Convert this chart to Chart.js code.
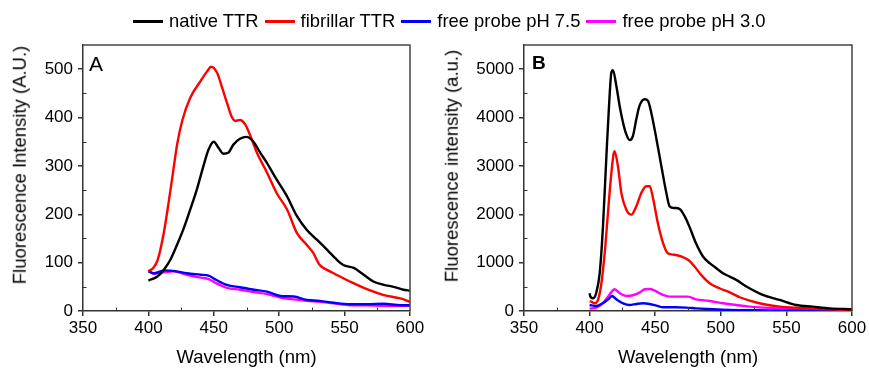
<!DOCTYPE html>
<html>
<head>
<meta charset="utf-8">
<script src="https://cdn.jsdelivr.net/npm/chart.js@4.4.1/dist/chart.umd.min.js"></script>
<style>
  html, body { margin:0; padding:0; background:#fff; }
  #wrap { position:relative; width:869px; height:368px; overflow:hidden; font-family:"Liberation Sans", Arial, sans-serif; }
  canvas { position:absolute; top:0; }
  #cA { left:0; }
  #cB { left:430px; }
  #legend { position:absolute; left:133px; top:9px; height:24px; display:flex; align-items:center; font-size:18.4px; color:#000; white-space:nowrap; }
  #legend .ln { display:inline-block; width:30px; height:3px; margin-right:6px; }
  #legend .tx { margin-right:6px; }
  .panel { position:absolute; color:#000; }
  .ytitle { position:absolute; font-size:18.5px; line-height:1; color:#000; white-space:nowrap; transform: translate(-50%,-50%) rotate(-90deg); }
</style>
</head>
<body>
<div id="wrap">
  <canvas id="cA" width="430" height="368"></canvas>
  <canvas id="cB" width="439" height="368"></canvas>
  <div id="legend"></div>
  <div class="panel" style="left:89px; top:52px; font-size:21px;">A</div>
  <div class="panel" style="left:532px; top:52px; font-size:19px; font-weight:bold;">B</div>
  <div class="ytitle" id="ytA" style="left:20px; top:165px;"></div>
  <div class="ytitle" id="ytB" style="left:452px; top:166px;"></div>
</div>
<script>
// ---------- Data ----------
const seriesNames = ["native TTR", "fibrillar TTR", "free probe pH 7.5", "free probe pH 3.0"];
const seriesColors = ["#000000", "#ff0000", "#0000ff", "#ff00ff"];
const xTitle = "Wavelength (nm)";
const yTitleA = "Fluorescence Intensity (A.U.)";
const yTitleB = "Fluorescence intensity (a.u.)";

// Panel A
const aNativeWl = [400,406.6,411.7,416.8,421.9,427,432,437,442,446,450,453.7,457.5,461,465,470,475,480,485.6,490.7,498,506,513.6,521,529,536.5,544,549,557,564.6,572,580,587.5,595,600];
const aNativeVal = [63,71,85,106,137,171,210,251,299,334,350,337,325,327,344,356,360,351,327,306,272,237,196,168,147,127,106,95,89,75,61,54,50,44,42];
const aFibWl = [400,404,407,409,412,415.5,419,422,426,432,440,445,448,452.4,456,460,464,466.5,470,474,478,483,490.7,498,506,513.6,521,526,531,536.5,541.6,554,567,580,592.6,600];
const aFibVal = [82,90,105,125,165,225,290,345,395,441,476,496,505,493,465,431,400,393,395,386,362,327,286,244,210,161,137,120,95,85,78,61,45,33,26,19];
const aProbeWl = [400,404,412,419,429.5,440,446,452,460,470,480.5,490.7,501,511,521,531,541.6,554,567,580,592.6,600];
const aPh75Val = [82,78,84,83,78,75,73,64,54,49,44,40,31,30,23,21,17,14,14,15,12,12];
const aPh30Val = [85,77,80,82,75,69,66,57,48,44,39,35,28,24,21,19,16,12,12,11,11,11];

// Panel B
const bNativeWl = [400,400.6,402.6,405,407.7,410.2,412.8,414.8,416.6,417.8,420.4,422.9,425.5,428,430.5,433,435.6,438,442,444.5,447,451,454.7,458.5,461,464.8,468.6,472.5,476,481,486.4,491.5,496.6,501.7,506.8,511.8,519.5,532,544.9,557.6,570,582.9,600];
const bNativeVal = [367,297,263,367,781,1750,3200,4240,4930,4980,4654,4240,3893,3651,3534,3617,3963,4240,4378,4343,4101,3548,2994,2441,2165,2130,2109,1957,1750,1404,1127,989,885,781,712,643,505,332,228,124,90,55,35];
const bFibWl = [400,401.3,403.9,406.4,409,411.5,414,416.6,419,421.6,424.2,428,431.8,435.6,439.4,443.2,445.8,448.3,452,456,459.6,464.8,469.8,475,480,485,491.5,499,506.8,514.4,522,532,544.9,557.6,570,583,600];
const bFibVal = [200,194,159,228,574,1196,2026,2856,3306,2994,2441,2095,1992,2165,2441,2580,2580,2337,1819,1404,1196,1162,1127,1058,920,747,574,470,387,284,214,145,90,69,48,35,21];
const bPh75Wl = [400,405,410,415,417,420.4,425.5,430.5,435.6,440.7,445.8,451,456,466,473.7,481,494,506.8,532,557.6,600];
const bPh75Val = [124,104,159,263,311,242,159,124,145,159,145,111,76,76,69,55,35,21,14,7,7];
const bPh30Wl = [400,405,410,415,419,423,428,433,438,442,445.8,449.6,456,461,468.6,475,481,491.5,501.7,511.8,522,532,557.6,583,600];
const bPh30Val = [48,69,159,332,450,367,311,325,380,450,456,422,332,297,297,297,242,207,159,124,90,69,41,28,21];

// Ticks
const xTicks = [350,400,450,500,550,600];
const xMinorTicks = [375,425,475,525,575];
const aYTicks = [0,100,200,300,400,500];
const aYMinorTicks = [50,150,250,350,450];
const bYTicks = [0,1000,2000,3000,4000,5000];
const bYMinorTicks = [500,1500,2500,3500,4500];

// ---------- Legend & titles ----------
const legend = document.getElementById('legend');
seriesNames.forEach((n, i) => {
  const l = document.createElement('span'); l.className = 'ln'; l.style.background = seriesColors[i];
  const t = document.createElement('span'); t.className = 'tx'; t.textContent = n;
  legend.appendChild(l); legend.appendChild(t);
});
document.getElementById('ytA').textContent = yTitleA;
document.getElementById('ytB').textContent = yTitleB;

// ---------- Helpers ----------
const FONT = '"Liberation Sans", Arial, sans-serif';
function pts(wl, val) { return wl.map((w, i) => ({x: w, y: val[i]})); }
function ds(wl, val, i) {
  return { label: seriesNames[i], data: pts(wl, val), borderColor: seriesColors[i], backgroundColor: seriesColors[i],
           borderWidth: 2.4, pointRadius: 0, cubicInterpolationMode: 'monotone', fill: false };
}

const framePlugin = {
  id: 'frame',
  afterDraw(chart, args, opts) {
    const {ctx, chartArea: {left, right, top, bottom}, scales: {x, y}} = chart;
    ctx.save();
    ctx.strokeStyle = '#444'; ctx.lineWidth = 1.5;
    ctx.beginPath(); ctx.moveTo(left, top); ctx.lineTo(right, top); ctx.lineTo(right, bottom); ctx.stroke();
    ctx.strokeStyle = '#333'; ctx.lineWidth = 1;
    ctx.beginPath();
    for (const v of opts.xMinor) { const px = Math.round(x.getPixelForValue(v)) + 0.5; ctx.moveTo(px, bottom); ctx.lineTo(px, bottom - 3.5); }
    for (const v of opts.yMinor) { const py = Math.round(y.getPixelForValue(v)) + 0.5; ctx.moveTo(left, py); ctx.lineTo(left + 3.5, py); }
    ctx.stroke();
    ctx.restore();
  }
};

function makeChart(id, datasets, yMax, yTicks, yWidth, padRight, yMinor) {
  return new Chart(document.getElementById(id), {
    type: 'line',
    data: { datasets },
    plugins: [framePlugin],
    options: {
      responsive: false, animation: false, devicePixelRatio: 1,
      layout: { padding: { top: 45, right: padRight, left: 0, bottom: 0 } },
      plugins: { legend: { display: false }, tooltip: { enabled: false }, frame: { xMinor: xMinorTicks, yMinor: yMinor } },
      scales: {
        x: {
          type: 'linear', min: 350, max: 600,
          afterBuildTicks: s => { s.ticks = xTicks.map(v => ({value: v})); },
          afterFit: s => { s.height = 57; },
          ticks: { color: '#000', padding: 2, maxRotation: 0, autoSkip: false, callback: v => String(v), font: { family: FONT, size: 17 } },
          grid: { display: true, drawOnChartArea: false, drawTicks: true, tickLength: 5, color: '#333', lineWidth: 1.5 },
          border: { display: true, color: '#333', width: 1.5 },
          title: { display: true, text: xTitle, color: '#000', padding: { top: 0, bottom: 1 }, font: { family: FONT, size: 18.5, lineHeight: 1 } }
        },
        y: {
          type: 'linear', min: 0, max: yMax,
          afterBuildTicks: s => { s.ticks = yTicks.map(v => ({value: v})); },
          afterFit: s => { s.width = yWidth; },
          ticks: { color: '#000', padding: 5, autoSkip: false, callback: v => String(v), font: { family: FONT, size: 17 } },
          grid: { display: true, drawOnChartArea: false, drawTicks: true, tickLength: 5, color: '#333', lineWidth: 1.5 },
          border: { display: true, color: '#333', width: 1.5 },
          title: { display: false }
        }
      }
    }
  });
}

makeChart('cA', [
  ds(aNativeWl, aNativeVal, 0),
  ds(aFibWl, aFibVal, 1),
  ds(aProbeWl, aPh75Val, 2),
  ds(aProbeWl, aPh30Val, 3)
], 550, aYTicks, 83, 20, aYMinorTicks);

makeChart('cB', [
  ds(bNativeWl, bNativeVal, 0),
  ds(bFibWl, bFibVal, 1),
  ds(bPh75Wl, bPh75Val, 2),
  ds(bPh30Wl, bPh30Val, 3)
], 5500, bYTicks, 94, 17, bYMinorTicks);
</script>
</body>
</html>
